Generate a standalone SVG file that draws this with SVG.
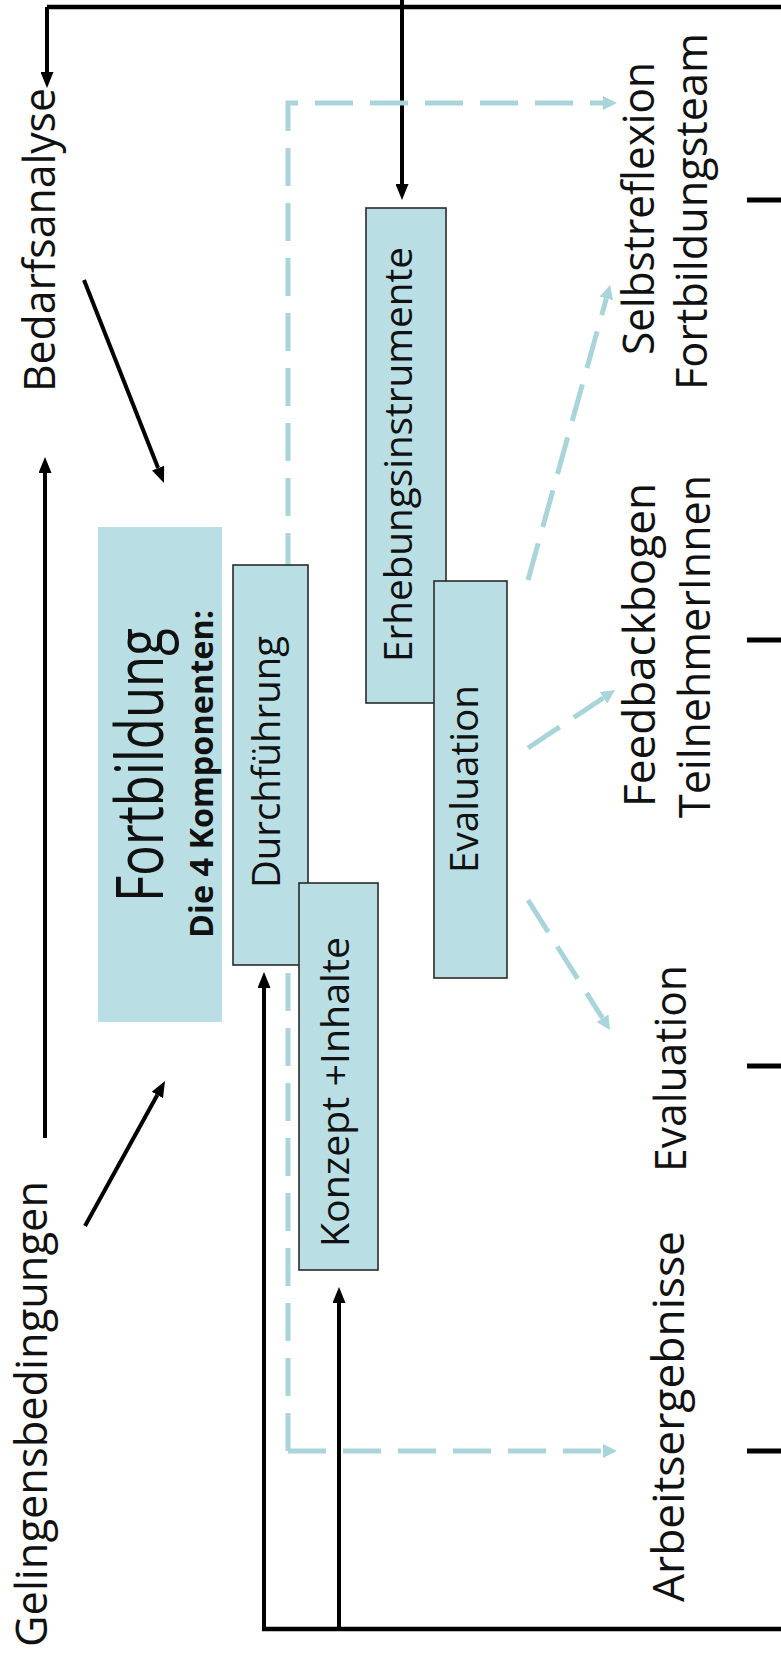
<svg xmlns="http://www.w3.org/2000/svg" width="781" height="1664" viewBox="0 0 781 1664">
<style>
.t{font-family:"Open Sans","Noto Sans","Liberation Sans",sans-serif;fill:#111;}
.lbl{font-size:43px;}
.bx{font-size:38px;}
.box{fill:#B9DFE4;stroke:#2a2a2a;stroke-width:1.6;}
.k{fill:none;stroke:#000;stroke-width:4.5;}
.ka{fill:none;stroke:#000;stroke-width:4;marker-end:url(#ab);}
.c{fill:none;stroke:#A9D5DA;stroke-width:5;stroke-dasharray:38 17;marker-end:url(#ac);}
.tick{stroke:#000;stroke-width:5;}
</style>
<defs>
<marker id="ab" markerWidth="16" markerHeight="13" refX="0" refY="6.5" orient="auto" markerUnits="userSpaceOnUse"><path d="M0,0 L16,6.5 L0,13 z" fill="#000"/></marker>
<marker id="ac" markerWidth="14" markerHeight="14" refX="0" refY="7" orient="auto" markerUnits="userSpaceOnUse"><path d="M0,0 L14,7 L0,14 z" fill="#A9D5DA"/></marker>
</defs>
<rect width="781" height="1664" fill="#fff"/>

<g id="connectors">
<path class="k" d="M781,7 H47"/>
<path class="ka" d="M47,7 V72"/>
<path class="ka" d="M402,0 V184"/>
<path class="ka" d="M45,1138 V473"/>
<path class="ka" d="M84,280 L158.1,468.1"/>
<path class="ka" d="M85,1226 L157.3,1095"/>
<path class="k" d="M262,1629 H781"/>
<path class="ka" d="M264,1629 V988"/>
<path class="ka" d="M339,1629 V1303"/>
<path class="c" d="M288,1451 V103 H603"/>
<path class="c" d="M288,1451 H603"/>
<path class="c" d="M528,580 L606.3,298.5"/>
<path class="c" d="M528,748 L603.4,697.8"/>
<path class="c" d="M528,900 L602.5,1018.2"/>
<line class="tick" x1="747" y1="200" x2="781" y2="200"/>
<line class="tick" x1="747" y1="640" x2="781" y2="640"/>
<line class="tick" x1="747" y1="1066" x2="781" y2="1066"/>
<line class="tick" x1="747" y1="1451" x2="781" y2="1451"/>
</g>

<g id="fortbildung">
<rect x="98" y="527" width="124" height="495" fill="#B9DFE4"/>
<text class="t" font-size="66" transform="translate(163,902) rotate(-90)" textLength="274" lengthAdjust="spacingAndGlyphs">Fortbildung</text>
<text class="t" font-size="33" font-weight="bold" transform="translate(213,938) rotate(-90)" textLength="328" lengthAdjust="spacingAndGlyphs">Die 4 Komponenten:</text>
</g>

<g id="durchfuehrung">
<rect class="box" x="233" y="565" width="75" height="400"/>
<text class="t bx" transform="translate(280,888) rotate(-90)" textLength="252" lengthAdjust="spacingAndGlyphs">Durchführung</text>
</g>

<g id="konzept">
<rect class="box" x="299" y="883" width="79" height="387"/>
<text class="t bx" transform="translate(349,1247) rotate(-90)" textLength="310" lengthAdjust="spacingAndGlyphs">Konzept +Inhalte</text>
</g>

<g id="erhebung">
<rect class="box" x="366" y="208" width="80" height="495"/>
<text class="t bx" transform="translate(412,662) rotate(-90)" textLength="415" lengthAdjust="spacingAndGlyphs">Erhebungsinstrumente</text>
</g>

<g id="evaluation-box">
<rect class="box" x="434" y="581" width="73" height="397"/>
<text class="t bx" transform="translate(478,873) rotate(-90)" textLength="188" lengthAdjust="spacingAndGlyphs">Evaluation</text>
</g>

<g id="bedarfsanalyse">
<text class="t lbl" transform="translate(55,392) rotate(-90)" textLength="304" lengthAdjust="spacingAndGlyphs">Bedarfsanalyse</text>
</g>

<g id="gelingensbedingungen">
<text class="t lbl" transform="translate(47,1647) rotate(-90)" textLength="466" lengthAdjust="spacingAndGlyphs">Gelingensbedingungen</text>
</g>

<g id="selbstreflexion">
<text class="t lbl" transform="translate(654,355) rotate(-90)" textLength="293" lengthAdjust="spacingAndGlyphs">Selbstreflexion</text>
<text class="t lbl" transform="translate(707,390) rotate(-90)" textLength="357" lengthAdjust="spacingAndGlyphs">Fortbildungsteam</text>
</g>

<g id="feedbackbogen">
<text class="t lbl" transform="translate(655,807) rotate(-90)" textLength="324" lengthAdjust="spacingAndGlyphs">Feedbackbogen</text>
<text class="t lbl" transform="translate(710,818) rotate(-90)" textLength="343" lengthAdjust="spacingAndGlyphs">TeilnehmerInnen</text>
</g>

<g id="evaluation-label">
<text class="t lbl" transform="translate(686,1172) rotate(-90)" textLength="207" lengthAdjust="spacingAndGlyphs">Evaluation</text>
</g>

<g id="arbeitsergebnisse">
<text class="t lbl" transform="translate(684,1602) rotate(-90)" textLength="371" lengthAdjust="spacingAndGlyphs">Arbeitsergebnisse</text>
</g>
</svg>
